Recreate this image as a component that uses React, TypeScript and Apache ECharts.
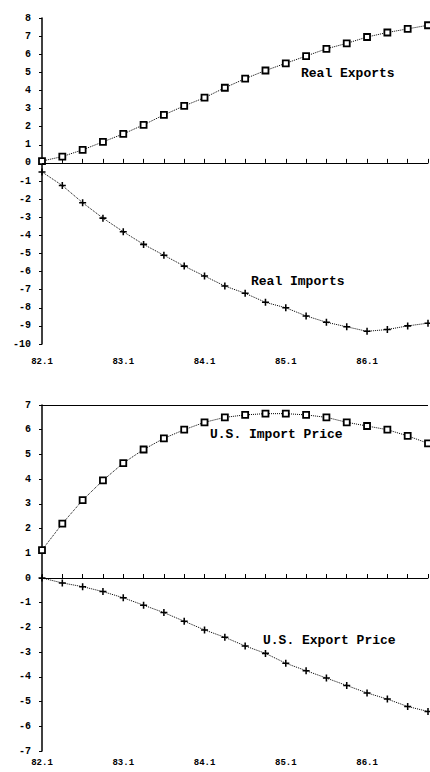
import React, { useEffect, useRef } from "react";
import * as echarts from "echarts";

const quarters = [
  "82.1", "82.2", "82.3", "82.4",
  "83.1", "83.2", "83.3", "83.4",
  "84.1", "84.2", "84.3", "84.4",
  "85.1", "85.2", "85.3", "85.4",
  "86.1", "86.2", "86.3", "86.4",
];
const realExports = [0.1, 0.35, 0.72, 1.16, 1.6, 2.1, 2.65, 3.15, 3.6, 4.15, 4.65, 5.1, 5.5, 5.9, 6.3, 6.6, 6.95, 7.2, 7.4, 7.6];
const realImports = [-0.5, -1.25, -2.2, -3.05, -3.8, -4.5, -5.1, -5.7, -6.25, -6.8, -7.2, -7.7, -8.0, -8.45, -8.8, -9.05, -9.3, -9.2, -9.0, -8.85];
const importPrice = [1.13, 2.2, 3.15, 3.95, 4.65, 5.2, 5.65, 6.0, 6.3, 6.5, 6.6, 6.65, 6.65, 6.6, 6.5, 6.3, 6.15, 6.0, 5.75, 5.45];
const exportPrice = [0, -0.2, -0.35, -0.55, -0.8, -1.1, -1.4, -1.75, -2.1, -2.4, -2.75, -3.05, -3.45, -3.75, -4.05, -4.35, -4.65, -4.9, -5.2, -5.4];

const PLUS = "path://M-1,-0.22 L-0.22,-0.22 L-0.22,-1 L0.22,-1 L0.22,-0.22 L1,-0.22 L1,0.22 L0.22,0.22 L0.22,1 L-0.22,1 L-0.22,0.22 L-1,0.22 Z";
const MONO = "'Liberation Mono', 'DejaVu Sans Mono', monospace";

export default function App() {
  const ref = useRef<HTMLDivElement>(null);
  useEffect(() => {
    if (!ref.current) return;
    const chart = echarts.init(ref.current, null, { renderer: "svg" });
    const xAxisBase = (gridIndex: number, margin: number) => ({
      type: "category",
      gridIndex,
      data: quarters,
      boundaryGap: false,
      axisLine: { lineStyle: { color: "#000", width: 1 } },
      axisTick: { inside: true, length: 4, interval: 0, lineStyle: { color: "#000" } },
      axisLabel: { interval: 3, color: "#000", fontFamily: MONO, fontWeight: "bold", fontSize: 9, margin },
      splitLine: { show: false },
    });
    const yAxisBase = (gridIndex: number, min: number, max: number) => ({
      type: "value",
      gridIndex,
      min,
      max,
      interval: 1,
      axisLine: { show: true, lineStyle: { color: "#000", width: 1.5 } },
      axisTick: { show: true, inside: false, length: 3, lineStyle: { color: "#000" } },
      axisLabel: { color: "#000", fontFamily: MONO, fontWeight: "bold", fontSize: 10, margin: 11 },
      splitLine: { show: false },
    });
    const lineStyle = { color: "#000", width: 1, type: "dotted" as const };
    const rectItem = { color: "#fff", borderColor: "#000", borderWidth: 1.8 };
    const plusItem = { color: "#000" };
    const refLine = (values: number[]) => ({
      silent: true,
      symbol: "none",
      label: { show: false },
      lineStyle: { color: "#000", width: 1, type: "solid" },
      data: values.map((v) => ({ yAxis: v })),
    });
    const text = (t: string, x: number, y: number) => ({
      type: "text",
      left: x,
      top: y,
      style: { text: t, fill: "#000", font: `bold 13px ${MONO}` },
    });
    chart.setOption({
      animation: false,
      backgroundColor: "#fff",
      grid: [
        { left: 42, right: 2, top: 18, height: 326 },
        { left: 42, right: 2, top: 405, height: 346 },
      ],
      xAxis: [xAxisBase(0, 13), xAxisBase(1, 7)],
      yAxis: [yAxisBase(0, -10, 8), yAxisBase(1, -7, 7)],
      series: [
        {
          name: "Real Exports",
          type: "line",
          xAxisIndex: 0,
          yAxisIndex: 0,
          data: realExports,
          symbol: "rect",
          symbolSize: 6,
          lineStyle,
          itemStyle: rectItem,
          markLine: refLine([0]),
        },
        {
          name: "Real Imports",
          type: "line",
          xAxisIndex: 0,
          yAxisIndex: 0,
          data: realImports,
          symbol: PLUS,
          symbolSize: 7,
          lineStyle,
          itemStyle: plusItem,
        },
        {
          name: "U.S. Import Price",
          type: "line",
          xAxisIndex: 1,
          yAxisIndex: 1,
          data: importPrice,
          symbol: "rect",
          symbolSize: 6,
          lineStyle,
          itemStyle: rectItem,
          markLine: refLine([0, 7]),
        },
        {
          name: "U.S. Export Price",
          type: "line",
          xAxisIndex: 1,
          yAxisIndex: 1,
          data: exportPrice,
          symbol: PLUS,
          symbolSize: 7,
          lineStyle,
          itemStyle: plusItem,
        },
      ],
      graphic: [
        text("Real Exports", 301, 67),
        text("Real Imports", 251, 275),
        text("U.S. Import Price", 210, 428),
        text("U.S. Export Price", 263, 634),
      ],
    });
    return () => chart.dispose();
  }, []);
  return (
    <div
      ref={ref}
      style={{ position: "fixed", left: 0, top: 0, width: 430, height: 772, background: "#fff" }}
    />
  );
}
